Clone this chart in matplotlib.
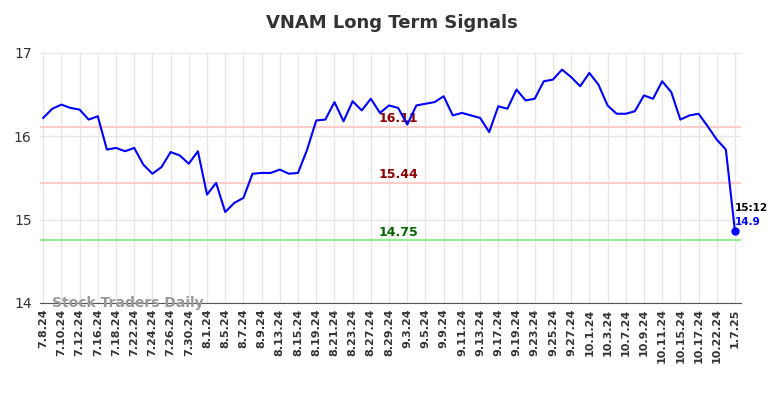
import matplotlib
matplotlib.use("Agg")
import matplotlib.pyplot as plt
import numpy as np

# daily closes, one per trading day; every other day gets a tick label
tick_labels = ["7.8.24", "7.10.24", "7.12.24", "7.16.24", "7.18.24", "7.22.24", "7.24.24",
               "7.26.24", "7.30.24", "8.1.24", "8.5.24", "8.7.24", "8.9.24", "8.13.24",
               "8.15.24", "8.19.24", "8.21.24", "8.23.24", "8.27.24", "8.29.24", "9.3.24",
               "9.5.24", "9.9.24", "9.11.24", "9.13.24", "9.17.24", "9.19.24", "9.23.24",
               "9.25.24", "9.27.24", "10.1.24", "10.3.24", "10.7.24", "10.9.24", "10.11.24",
               "10.15.24", "10.17.24", "10.22.24", "1.7.25"]
prices = [16.22, 16.33, 16.38, 16.34, 16.32, 16.20, 16.24, 15.84, 15.86, 15.82,
          15.86, 15.66, 15.55, 15.63, 15.81, 15.77, 15.67, 15.82, 15.30, 15.44,
          15.09, 15.20, 15.26, 15.55, 15.56, 15.56, 15.60, 15.55, 15.56, 15.84,
          16.19, 16.20, 16.41, 16.18, 16.42, 16.31, 16.45, 16.28, 16.37, 16.34,
          16.14, 16.37, 16.39, 16.41, 16.48, 16.25, 16.28, 16.25, 16.22, 16.05,
          16.36, 16.33, 16.56, 16.43, 16.45, 16.66, 16.68, 16.80, 16.71, 16.60,
          16.76, 16.62, 16.37, 16.27, 16.27, 16.30, 16.49, 16.45, 16.66, 16.53,
          16.20, 16.25, 16.27, 16.12, 15.96, 15.84, 14.86]
resistance = [16.11, 15.44]
support = [14.75]
last_time = "15:12"
last_label = "14.9"

x = np.arange(len(prices))

fig = plt.figure(figsize=(7.84, 3.98), dpi=100)
ax = fig.add_axes([0.051, 0.239, 0.894, 0.628])

ax.set_xticks(x[::2])
ax.set_xticklabels(tick_labels, rotation=90, fontsize=8, fontweight="bold", color="#333333")
ax.set_yticks([14, 15, 16, 17])
ax.tick_params(axis="y", labelsize=10, length=0, colors="#333333", pad=6)
ax.tick_params(axis="x", length=0, pad=4)
ax.grid(True, color="#e6e6e6", lw=1)
ax.set_axisbelow(True)
for s in ["top", "right", "left"]:
    ax.spines[s].set_visible(False)
ax.spines["bottom"].set_color("#555555")

mid = 39
for lvl in resistance:
    ax.axhline(lvl, color="#ffcccc", lw=1.5, zorder=1)
    ax.text(mid, lvl + 0.02, f"{lvl:.2f}", color="#8b0000", fontsize=9,
            fontweight="bold", ha="center", va="bottom")
for lvl in support:
    ax.axhline(lvl, color="#90ee90", lw=1.5, zorder=1)
    ax.text(mid, lvl + 0.02, f"{lvl:.2f}", color="#006400", fontsize=9,
            fontweight="bold", ha="center", va="bottom")

ax.plot(x, prices, color="blue", lw=1.5, zorder=3)
ax.plot(x[-1], prices[-1], "o", color="blue", ms=5, zorder=4)
ax.text(x[-1], prices[-1] + 0.11, last_label, color="blue", fontsize=7.5,
        fontweight="bold", ha="left", va="center")
ax.text(x[-1], prices[-1] + 0.28, last_time, color="black", fontsize=7.5,
        fontweight="bold", ha="left", va="center")

ax.text(1.0, 14.0, "Stock Traders Daily", color="#999999", fontsize=10,
        fontweight="bold", ha="left", va="center", zorder=5)

ax.set_xlim(-0.35, len(prices) - 0.35)
ax.set_ylim(14, 17)
fig.suptitle("VNAM Long Term Signals", fontsize=13, fontweight="bold",
             color="#333333", y=0.965)

fig.savefig("out.png", dpi=100)
